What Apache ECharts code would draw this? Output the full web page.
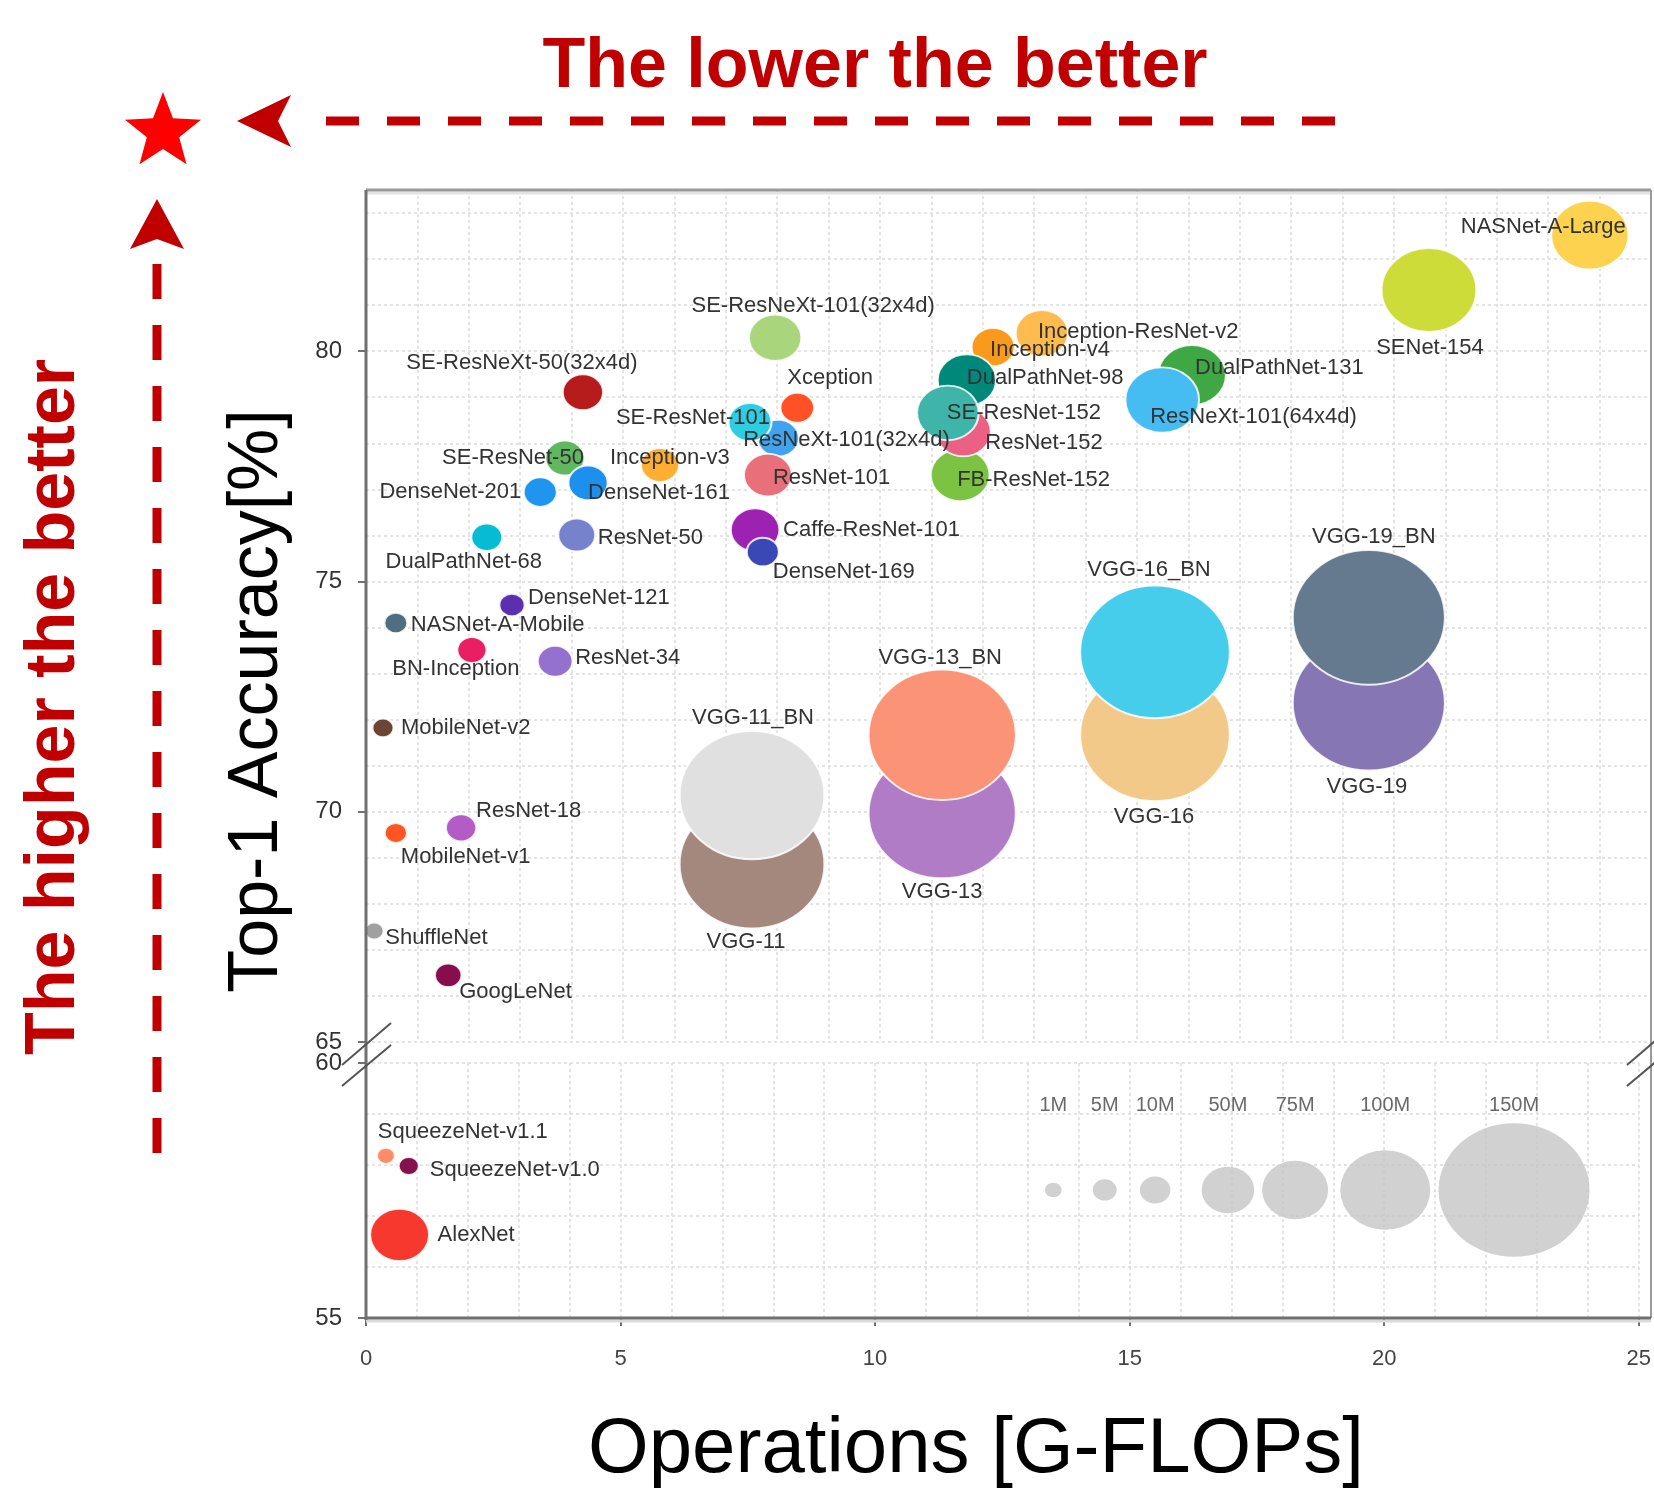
<!DOCTYPE html>
<html>
<head>
<meta charset="utf-8">
<title>Top-1 accuracy vs operations</title>
<script src="https://cdn.jsdelivr.net/npm/echarts@6/dist/echarts.min.js"></script>
<style>
  html, body { margin: 0; padding: 0; background: #fff; }
  #chart { width: 1654px; height: 1502px; }
</style>
</head>
<body>
<div id="chart"></div>
<script>
// data
var models = ['VGG-11', 'VGG-11_BN', 'VGG-13', 'VGG-13_BN', 'VGG-16', 'VGG-16_BN', 'VGG-19', 'VGG-19_BN',
  'NASNet-A-Large', 'SENet-154', 'DualPathNet-131', 'ResNeXt-101(64x4d)', 'Inception-v4', 'Inception-ResNet-v2',
  'DualPathNet-98', 'FB-ResNet-152', 'ResNet-152', 'SE-ResNet-152', 'SE-ResNeXt-101(32x4d)', 'Xception',
  'ResNeXt-101(32x4d)', 'SE-ResNet-101', 'ResNet-101', 'Caffe-ResNet-101', 'DenseNet-169', 'SE-ResNeXt-50(32x4d)',
  'SE-ResNet-50', 'DenseNet-161', 'Inception-v3', 'DenseNet-201', 'ResNet-50', 'DualPathNet-68', 'DenseNet-121',
  'NASNet-A-Mobile', 'BN-Inception', 'ResNet-34', 'MobileNet-v2', 'ResNet-18', 'MobileNet-v1', 'ShuffleNet',
  'GoogLeNet', 'SqueezeNet-v1.1', 'SqueezeNet-v1.0', 'AlexNet'];
var gflops = [7.51, 7.51, 11.21, 11.21, 15.35, 15.35, 19.51, 19.51,
  23.81, 20.68, 16.07, 15.49, 12.2, 13.15,
  11.69, 11.56, 11.62, 11.32, 7.96, 8.39,
  8.02, 7.47, 7.82, 7.57, 7.72, 4.22,
  3.87, 4.32, 5.72, 3.39, 4.1, 2.35, 2.84,
  0.58, 2.06, 3.68, 0.33, 1.85, 0.58, 0.16,
  1.6, 0.39, 0.84, 0.66];
var top1 = [68.86, 70.36, 69.97, 71.67, 71.67, 73.47, 72.36, 74.22,
  82.52, 81.33, 79.48, 78.94, 80.09, 80.39,
  79.37, 77.31, 78.25, 78.66, 80.29, 78.77,
  78.11, 78.46, 77.31, 76.12, 75.64, 79.11,
  77.68, 77.14, 77.53, 76.94, 76.01, 75.96, 74.49,
  74.1, 73.51, 73.27, 71.82, 69.65, 69.54, 67.41,
  66.45, 58.18, 57.98, 56.63];
var paramsM = [145, 145, 147, 147, 149, 149, 151, 151,
  87, 104, 77, 83, 33, 50,
  61, 62, 55, 67, 50, 16,
  30, 33, 42, 43, 13, 28,
  26, 26, 24, 15, 22, 11, 6,
  4.5, 9, 18, 3.5, 10, 4.2, 2.3,
  7, 1.8, 3, 62];

var legendLabels = ['1M', '5M', '10M', '50M', '75M', '100M', '150M'];
var legendParams = [1, 5, 10, 50, 75, 100, 150];
var legendX = [13.5, 14.51, 15.5, 16.93, 18.25, 20.02, 22.55];
var legendY = 57.51;

var xTicks = [0, 5, 10, 15, 20, 25];
var yTicksTop = [65, 70, 75, 80];
var yTicksBottom = [55, 60];
var yTopMax = 83.5;

// styles
var colors = {
  'VGG-11': '#a4877d', 'VGG-11_BN': '#e0e0e0', 'VGG-13': '#b07cc6', 'VGG-13_BN': '#fb9477',
  'VGG-16': '#f3c98a', 'VGG-16_BN': '#46cdeb', 'VGG-19': '#8676b3', 'VGG-19_BN': '#65798f',
  'NASNet-A-Large': '#fdd24e', 'SENet-154': '#cddc39', 'DualPathNet-131': '#3fa845',
  'ResNeXt-101(64x4d)': '#45bdf3', 'Inception-v4': '#fa9a1c', 'Inception-ResNet-v2': '#ffbb4f',
  'DualPathNet-98': '#00897b', 'FB-ResNet-152': '#7cc243', 'ResNet-152': '#ec6183',
  'SE-ResNet-152': '#3fb4a8', 'SE-ResNeXt-101(32x4d)': '#a9d57c', 'Xception': '#ff5125',
  'ResNeXt-101(32x4d)': '#41a2ee', 'SE-ResNet-101': '#2ecde2', 'ResNet-101': '#e8707a',
  'Caffe-ResNet-101': '#9e22b2', 'DenseNet-169': '#3a48b5', 'SE-ResNeXt-50(32x4d)': '#b71c1c',
  'SE-ResNet-50': '#5fb75f', 'DenseNet-161': '#1d8fec', 'Inception-v3': '#fdae33',
  'DenseNet-201': '#1e96f0', 'ResNet-50': '#7683cc', 'DualPathNet-68': '#05bcd4',
  'DenseNet-121': '#5a2fb0', 'NASNet-A-Mobile': '#4f6e80', 'BN-Inception': '#ea1e63',
  'ResNet-34': '#9470cf', 'MobileNet-v2': '#6d4534', 'ResNet-18': '#b45cc6',
  'MobileNet-v1': '#ff5522', 'ShuffleNet': '#a0a0a0', 'GoogLeNet': '#880d4c',
  'SqueezeNet-v1.1': '#ff8c67', 'SqueezeNet-v1.0': '#84104c', 'AlexNet': '#f6382f'
};
// label anchor: [align, dx, dy] relative to the bubble centre
var spots = {
  'NASNet-A-Large': ['right', 36, -8], 'SENet-154': ['center', 1, 58],
  'SE-ResNeXt-101(32x4d)': ['center', 38, -32], 'Inception-ResNet-v2': ['left', -4, -1],
  'Inception-v4': ['left', -3, 3], 'DualPathNet-98': ['left', 0, -2], 'DualPathNet-131': ['left', 3, -7],
  'ResNeXt-101(64x4d)': ['left', -12, 17], 'SE-ResNet-152': ['left', -1, 0], 'ResNet-152': ['left', 22, 11],
  'FB-ResNet-152': ['left', -3, 5], 'Xception': ['left', -10, -30], 'SE-ResNet-101': ['right', 20, -4],
  'ResNeXt-101(32x4d)': ['left', -35, 2], 'ResNet-101': ['left', 5, 3], 'Caffe-ResNet-101': ['left', 28, 0],
  'DenseNet-169': ['left', 10, 20], 'SE-ResNeXt-50(32x4d)': ['center', -61, -29], 'SE-ResNet-50': ['right', 19, 0],
  'Inception-v3': ['left', -50, -7], 'DenseNet-161': ['left', 0, 10], 'ResNet-50': ['left', 21, 3],
  'DenseNet-201': ['right', -19, 0], 'DualPathNet-68': ['center', -23, 25], 'DenseNet-121': ['left', 16, -7],
  'NASNet-A-Mobile': ['left', 15, 2], 'BN-Inception': ['center', -16, 19], 'ResNet-34': ['left', 20, -3],
  'MobileNet-v2': ['left', 18, 0], 'ResNet-18': ['left', 15, -17], 'MobileNet-v1': ['left', 5, 24],
  'ShuffleNet': ['left', 11, 7], 'GoogLeNet': ['left', 11, 17],
  'VGG-11_BN': ['center', 1, -77], 'VGG-11': ['center', -6, 78], 'VGG-13_BN': ['center', -2, -77],
  'VGG-13': ['center', 0, 79], 'VGG-16_BN': ['center', -6, -82], 'VGG-16': ['center', -1, 82],
  'VGG-19_BN': ['center', 5, -80], 'VGG-19': ['center', -2, 84],
  'SqueezeNet-v1.1': ['left', -8, -24], 'SqueezeNet-v1.0': ['left', 21, 4], 'AlexNet': ['left', 38, 0]
};
// bubble width (px) for a parameter count, following the size key
var sizeStops = [[1, 16.6], [5, 24], [10, 30.5], [50, 52.5], [75, 66], [100, 90], [150, 151]];
function bubbleWidth(p) {
  var i = 1;
  while (i < sizeStops.length - 1 && p > sizeStops[i][0]) i++;
  var a = sizeStops[i - 1], b = sizeStops[i];
  return a[1] + (p - a[0]) * (b[1] - a[1]) / (b[0] - a[0]);
}
function bubbleSize(v) {
  var w = bubbleWidth(v[2]);
  return [w, w / 1.13];
}

var FONT = 'Liberation Sans, Arial, sans-serif';
var L = 366, R = 1651, T = 190, B = 1318, BREAK_TOP = 1042, BREAK_BOT = 1063;

var upper = [], lower = [];
models.forEach(function (name, i) {
  var s = spots[name] || ['left', 12, 0];
  var item = {
    name: name,
    value: [gflops[i], top1[i], paramsM[i]],
    itemStyle: { color: colors[name] },
    label: { show: true, position: 'inside', align: s[0], verticalAlign: 'middle', offset: [s[1], s[2]] }
  };
  (top1[i] >= yTicksTop[0] ? upper : lower).push(item);
});

var legendData = legendLabels.map(function (lab, i) {
  return { name: lab, value: [legendX[i], legendY, legendParams[i]] };
});

var labelStyle = { color: '#333', fontSize: 22, fontFamily: FONT, formatter: '{b}' };
var gridLine = { color: '#dcdcdc', width: 1.5, type: [3, 3] };

function xAx(gridIndex, labels) {
  return {
    type: 'value', gridIndex: gridIndex, position: 'bottom',
    min: xTicks[0], max: xTicks[xTicks.length - 1],
    interval: labels ? 5 : 1,
    axisLine: { show: false },
    axisTick: { show: labels, length: 8, customValues: labels ? xTicks : undefined,
      lineStyle: { color: '#707070', width: 2 } },
    axisLabel: { show: labels, margin: 30, customValues: labels ? xTicks : undefined,
      color: '#444', fontSize: 22, fontFamily: FONT },
    splitLine: { show: !labels, lineStyle: gridLine }
  };
}
function yAx(gridIndex, min, max, labels, ticks) {
  return {
    type: 'value', gridIndex: gridIndex, position: 'left', min: min, max: max,
    interval: labels ? 5 : 1,
    axisLine: { show: false },
    axisTick: { show: labels, length: 8, customValues: ticks, lineStyle: { color: '#707070', width: 2 } },
    axisLabel: { show: labels, margin: 24, customValues: ticks,
      color: '#333', fontSize: 24, fontFamily: FONT },
    splitLine: { show: !labels, lineStyle: gridLine }
  };
}

function bubbles(data, xi, yi, extra) {
  var s = {
    type: 'scatter', xAxisIndex: xi, yAxisIndex: yi, data: data, clip: false,
    symbolSize: bubbleSize,
    itemStyle: { borderColor: 'rgba(255,255,255,0.85)', borderWidth: 2, opacity: 1 },
    label: labelStyle,
    emphasis: { disabled: true }
  };
  for (var k in extra) s[k] = extra[k];
  return s;
}

function starPoints(cx, cy, r1, r2) {
  var pts = [];
  for (var i = 0; i < 10; i++) {
    var r = i % 2 ? r2 : r1, a = -Math.PI / 2 + i * Math.PI / 5;
    pts.push([cx + r * Math.cos(a), cy + r * Math.sin(a)]);
  }
  return pts;
}

var RED = '#c00000';
var chart = echarts.init(document.getElementById('chart'));
chart.setOption({
  animation: false,
  backgroundColor: '#fff',
  grid: [
    { left: L, right: 1654 - R, top: T, height: BREAK_TOP - T },
    { left: L, right: 1654 - R, top: BREAK_BOT, height: B - BREAK_BOT }
  ],
  xAxis: [xAx(0, false), xAx(1, false), xAx(1, true)],
  yAxis: [
    yAx(0, yTicksTop[0], yTopMax, true, yTicksTop),
    yAx(0, yTicksTop[0], yTopMax, false),
    yAx(1, yTicksBottom[0], yTicksBottom[1], true, yTicksBottom),
    yAx(1, yTicksBottom[0], yTicksBottom[1], false)
  ],
  series: [
    bubbles(upper, 0, 0, {}),
    bubbles(lower, 2, 2, {}),
    bubbles(legendData, 2, 2, {
      itemStyle: { color: '#c6c6c6' },
      label: { show: true, position: 'inside', offset: [0, -85], color: '#444', fontSize: 20,
        fontFamily: FONT, formatter: '{b}' }
    })
  ],
  graphic: [
    // plot frame
    { type: 'line', z: 50, shape: { x1: L, y1: T + 3, x2: R, y2: T + 3 }, style: { stroke: '#e2e2e2', lineWidth: 3 } },
    { type: 'line', z: 50, shape: { x1: L, y1: T, x2: R, y2: T }, style: { stroke: '#9a9a9a', lineWidth: 3 } },
    { type: 'line', z: 50, shape: { x1: R, y1: T, x2: R, y2: B }, style: { stroke: '#9a9a9a', lineWidth: 2 } },
    { type: 'line', z: 50, shape: { x1: L, y1: B + 3, x2: R, y2: B + 3 }, style: { stroke: '#dadada', lineWidth: 3 } },
    { type: 'line', z: 50, shape: { x1: L, y1: T, x2: L, y2: B + 2 }, style: { stroke: '#707070', lineWidth: 3 } },
    { type: 'line', z: 50, shape: { x1: L, y1: B, x2: R, y2: B }, style: { stroke: '#707070', lineWidth: 3 } },
    // axis break marks
    { type: 'line', z: 51, shape: { x1: 342, y1: 1065, x2: 391, y2: 1023 }, style: { stroke: '#555', lineWidth: 2 } },
    { type: 'line', z: 51, shape: { x1: 342, y1: 1086, x2: 391, y2: 1045 }, style: { stroke: '#555', lineWidth: 2 } },
    { type: 'line', z: 51, shape: { x1: 1627, y1: 1065, x2: 1676, y2: 1023 }, style: { stroke: '#555', lineWidth: 2 } },
    { type: 'line', z: 51, shape: { x1: 1627, y1: 1086, x2: 1676, y2: 1045 }, style: { stroke: '#555', lineWidth: 2 } },
    // axis titles
    { type: 'text', z: 60, x: 976, y: 1450, style: { text: 'Operations [G-FLOPs]', fill: '#000',
      font: '78px ' + FONT, align: 'center', verticalAlign: 'middle' } },
    { type: 'text', z: 60, x: 258, y: 701, rotation: Math.PI / 2, style: { text: 'Top-1 Accuracy[%]', fill: '#000',
      font: '70px ' + FONT, align: 'center', verticalAlign: 'middle' } },
    // annotations
    { type: 'text', z: 60, x: 875, y: 68, style: { text: 'The lower the better', fill: RED,
      font: 'bold 70px ' + FONT, align: 'center', verticalAlign: 'middle' } },
    { type: 'text', z: 60, x: 55, y: 707, rotation: Math.PI / 2, style: { text: 'The higher the better', fill: RED,
      font: 'bold 70px ' + FONT, align: 'center', verticalAlign: 'middle' } },
    { type: 'line', z: 60, shape: { x1: 326, y1: 121, x2: 1335, y2: 121 },
      style: { stroke: RED, lineWidth: 9, lineDash: [33, 28] } },
    { type: 'polygon', z: 60, shape: { points: [[237, 121], [291, 95], [278, 121], [291, 147]] },
      style: { fill: RED } },
    { type: 'line', z: 60, shape: { x1: 157, y1: 264, x2: 157, y2: 1155 },
      style: { stroke: RED, lineWidth: 9, lineDash: [35, 26] } },
    { type: 'polygon', z: 60, shape: { points: [[157, 199], [184, 249], [157, 239], [130, 249]] },
      style: { fill: RED } },
    { type: 'polygon', z: 60, shape: { points: starPoints(163, 132, 40, 17) }, style: { fill: '#ff0000' } }
  ]
});
</script>
</body>
</html>
